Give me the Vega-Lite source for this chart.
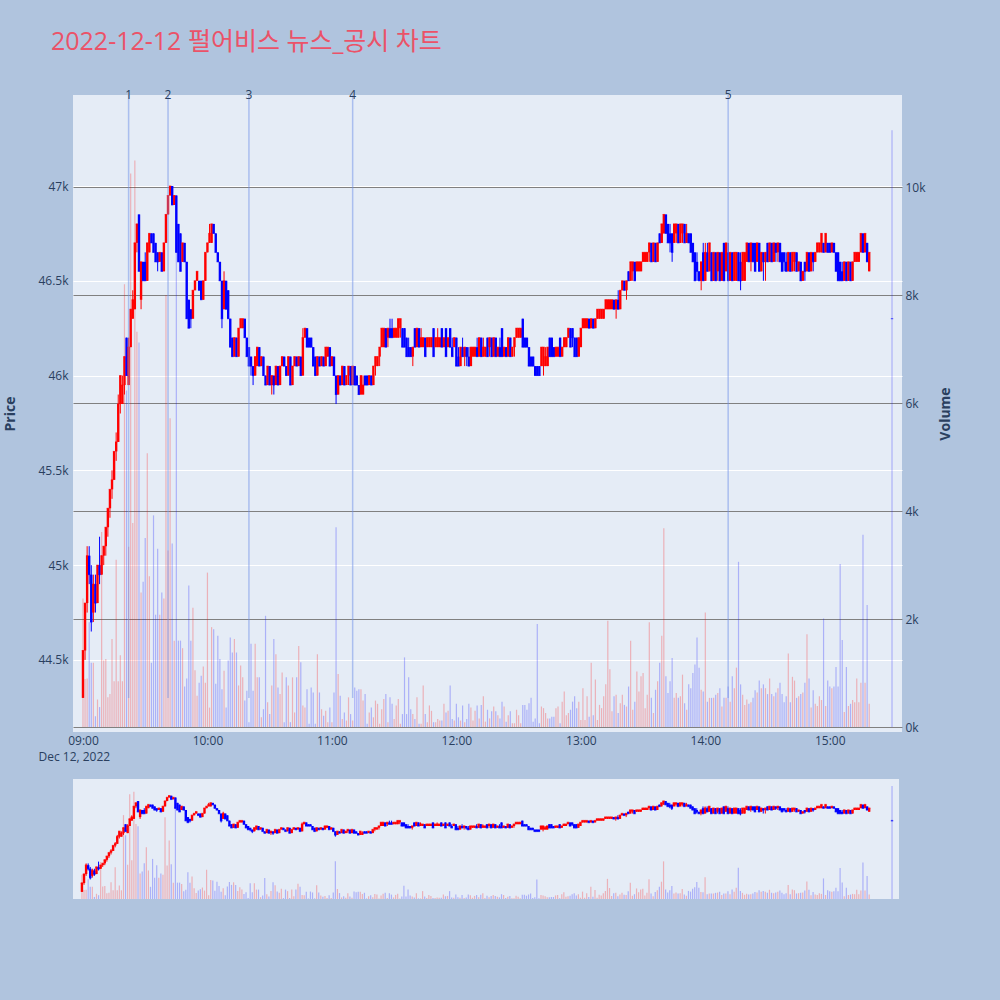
{
  "$schema": "https://vega.github.io/schema/vega-lite/v6.json",
  "background": "#b0c4de",
  "padding": {"left": 3, "top": 30, "right": 47, "bottom": 102},
  "title": {
    "text": "2022-12-12 펄어비스 뉴스_공시 차트",
    "anchor": "start",
    "font": "Open Sans, Noto Sans CJK KR",
    "fontSize": 25,
    "fontWeight": "normal",
    "color": "#eb5268",
    "dx": 47,
    "offset": 34
  },
  "config": {
    "font": "Open Sans",
    "view": {"fill": "#e5ecf6", "stroke": null},
    "axis": {
      "labelFont": "Open Sans",
      "labelFontSize": 12,
      "labelColor": "#2a3f5f",
      "titleFont": "Open Sans",
      "titleFontSize": 14,
      "titleColor": "#2a3f5f",
      "ticks": false,
      "domain": false
    }
  },
  "spacing": 17,
  "datasets": {
    "ev": [
      {"t": "2022-12-12T09:22", "n": "1"},
      {"t": "2022-12-12T09:41", "n": "2"},
      {"t": "2022-12-12T10:20", "n": "3"},
      {"t": "2022-12-12T11:10", "n": "4"},
      {"t": "2022-12-12T14:11", "n": "5"}
    ],
    "k": [
      {"t":"2022-12-12T09:00","o":44300,"h":44550,"l":44300,"c":44550,"v":2380},
      {"t":"2022-12-12T09:01","o":44550,"h":44800,"l":44500,"c":44800,"v":890},
      {"t":"2022-12-12T09:02","o":44800,"h":45100,"l":44750,"c":45050,"v":900},
      {"t":"2022-12-12T09:03","o":45050,"h":45100,"l":44900,"c":44950,"v":1940},
      {"t":"2022-12-12T09:04","o":44950,"h":45000,"l":44650,"c":44700,"v":1190},
      {"t":"2022-12-12T09:05","o":44750,"h":44950,"l":44700,"c":44900,"v":1190},
      {"t":"2022-12-12T09:06","o":44900,"h":44950,"l":44750,"c":44800,"v":200},
      {"t":"2022-12-12T09:07","o":44800,"h":45000,"l":44800,"c":45000,"v":510},
      {"t":"2022-12-12T09:08","o":45000,"h":45150,"l":44900,"c":44950,"v":370},
      {"t":"2022-12-12T09:09","o":44950,"h":45050,"l":44950,"c":45050,"v":3610},
      {"t":"2022-12-12T09:10","o":45050,"h":45100,"l":45000,"c":45100,"v":1230},
      {"t":"2022-12-12T09:11","o":45100,"h":45200,"l":45050,"c":45200,"v":1260},
      {"t":"2022-12-12T09:12","o":45200,"h":45300,"l":45150,"c":45300,"v":550},
      {"t":"2022-12-12T09:13","o":45300,"h":45400,"l":45250,"c":45400,"v":610},
      {"t":"2022-12-12T09:14","o":45400,"h":45500,"l":45350,"c":45450,"v":1630},
      {"t":"2022-12-12T09:15","o":45450,"h":45600,"l":45450,"c":45600,"v":850},
      {"t":"2022-12-12T09:16","o":45600,"h":45700,"l":45550,"c":45650,"v":3100},
      {"t":"2022-12-12T09:17","o":45650,"h":45900,"l":45650,"c":45850,"v":850},
      {"t":"2022-12-12T09:18","o":45850,"h":46000,"l":45800,"c":46000,"v":1330},
      {"t":"2022-12-12T09:19","o":45850,"h":46000,"l":45850,"c":45950,"v":850},
      {"t":"2022-12-12T09:20","o":45950,"h":46100,"l":45900,"c":46100,"v":8200},
      {"t":"2022-12-12T09:21","o":46200,"h":46200,"l":46000,"c":46000,"v":6230},
      {"t":"2022-12-12T09:22","o":45950,"h":46200,"l":45950,"c":46150,"v":3340},
      {"t":"2022-12-12T09:23","o":46150,"h":46350,"l":46150,"c":46350,"v":10250},
      {"t":"2022-12-12T09:24","o":46300,"h":46450,"l":46300,"c":46400,"v":3780},
      {"t":"2022-12-12T09:25","o":46350,"h":46700,"l":46350,"c":46700,"v":10490},
      {"t":"2022-12-12T09:26","o":46700,"h":46800,"l":46650,"c":46800,"v":7320},
      {"t":"2022-12-12T09:27","o":46850,"h":46850,"l":46550,"c":46550,"v":7120},
      {"t":"2022-12-12T09:28","o":46400,"h":46600,"l":46350,"c":46600,"v":2490},
      {"t":"2022-12-12T09:29","o":46600,"h":46600,"l":46500,"c":46500,"v":2690},
      {"t":"2022-12-12T09:30","o":46600,"h":46650,"l":46500,"c":46500,"v":3500},
      {"t":"2022-12-12T09:31","o":46500,"h":46700,"l":46500,"c":46700,"v":5070},
      {"t":"2022-12-12T09:32","o":46650,"h":46750,"l":46650,"c":46750,"v":2790},
      {"t":"2022-12-12T09:33","o":46750,"h":46750,"l":46700,"c":46700,"v":1190},
      {"t":"2022-12-12T09:34","o":46750,"h":46750,"l":46650,"c":46650,"v":3920},
      {"t":"2022-12-12T09:35","o":46700,"h":46700,"l":46600,"c":46600,"v":2080},
      {"t":"2022-12-12T09:36","o":46650,"h":46650,"l":46550,"c":46600,"v":3300},
      {"t":"2022-12-12T09:37","o":46600,"h":46650,"l":46600,"c":46650,"v":2080},
      {"t":"2022-12-12T09:38","o":46650,"h":46650,"l":46550,"c":46550,"v":2490},
      {"t":"2022-12-12T09:39","o":46550,"h":46700,"l":46550,"c":46700,"v":2380},
      {"t":"2022-12-12T09:40","o":46700,"h":46850,"l":46700,"c":46850,"v":8000},
      {"t":"2022-12-12T09:41","o":46850,"h":46950,"l":46850,"c":46950,"v":3270},
      {"t":"2022-12-12T09:42","o":46950,"h":47000,"l":46950,"c":47000,"v":5720},
      {"t":"2022-12-12T09:43","o":47000,"h":47000,"l":46900,"c":46900,"v":3400},
      {"t":"2022-12-12T09:44","o":46900,"h":46950,"l":46900,"c":46950,"v":1600},
      {"t":"2022-12-12T09:45","o":46950,"h":46950,"l":46650,"c":46650,"v":9700},
      {"t":"2022-12-12T09:46","o":46800,"h":46800,"l":46600,"c":46600,"v":1600},
      {"t":"2022-12-12T09:47","o":46750,"h":46750,"l":46550,"c":46550,"v":1600},
      {"t":"2022-12-12T09:48","o":46600,"h":46700,"l":46600,"c":46700,"v":1460},
      {"t":"2022-12-12T09:49","o":46700,"h":46700,"l":46600,"c":46600,"v":750},
      {"t":"2022-12-12T09:50","o":46600,"h":46600,"l":46300,"c":46300,"v":900},
      {"t":"2022-12-12T09:51","o":46400,"h":46400,"l":46250,"c":46250,"v":2620},
      {"t":"2022-12-12T09:52","o":46350,"h":46350,"l":46250,"c":46300,"v":1600},
      {"t":"2022-12-12T09:53","o":46300,"h":46450,"l":46300,"c":46450,"v":2210},
      {"t":"2022-12-12T09:54","o":46450,"h":46500,"l":46450,"c":46500,"v":1050},
      {"t":"2022-12-12T09:55","o":46500,"h":46550,"l":46500,"c":46550,"v":580},
      {"t":"2022-12-12T09:56","o":46500,"h":46500,"l":46450,"c":46450,"v":820},
      {"t":"2022-12-12T09:57","o":46500,"h":46500,"l":46400,"c":46400,"v":950},
      {"t":"2022-12-12T09:58","o":46400,"h":46500,"l":46400,"c":46500,"v":1120},
      {"t":"2022-12-12T09:59","o":46500,"h":46650,"l":46500,"c":46650,"v":820},
      {"t":"2022-12-12T10:00","o":46650,"h":46700,"l":46650,"c":46700,"v":2860},
      {"t":"2022-12-12T10:01","o":46700,"h":46800,"l":46700,"c":46750,"v":360},
      {"t":"2022-12-12T10:02","o":46700,"h":46800,"l":46700,"c":46800,"v":1850},
      {"t":"2022-12-12T10:03","o":46800,"h":46800,"l":46750,"c":46750,"v":1810},
      {"t":"2022-12-12T10:04","o":46750,"h":46750,"l":46650,"c":46650,"v":800},
      {"t":"2022-12-12T10:05","o":46650,"h":46650,"l":46600,"c":46600,"v":1690},
      {"t":"2022-12-12T10:06","o":46600,"h":46600,"l":46500,"c":46500,"v":1260},
      {"t":"2022-12-12T10:07","o":46500,"h":46500,"l":46250,"c":46300,"v":700},
      {"t":"2022-12-12T10:08","o":46350,"h":46550,"l":46350,"c":46500,"v":1040},
      {"t":"2022-12-12T10:09","o":46500,"h":46500,"l":46350,"c":46350,"v":360},
      {"t":"2022-12-12T10:10","o":46450,"h":46450,"l":46300,"c":46300,"v":1230},
      {"t":"2022-12-12T10:11","o":46300,"h":46300,"l":46150,"c":46150,"v":1660},
      {"t":"2022-12-12T10:12","o":46200,"h":46200,"l":46100,"c":46100,"v":1380},
      {"t":"2022-12-12T10:13","o":46100,"h":46200,"l":46100,"c":46200,"v":1630},
      {"t":"2022-12-12T10:14","o":46200,"h":46200,"l":46100,"c":46100,"v":1380},
      {"t":"2022-12-12T10:15","o":46100,"h":46250,"l":46100,"c":46250,"v":770},
      {"t":"2022-12-12T10:16","o":46250,"h":46300,"l":46250,"c":46300,"v":1140},
      {"t":"2022-12-12T10:17","o":46250,"h":46300,"l":46250,"c":46300,"v":920},
      {"t":"2022-12-12T10:18","o":46300,"h":46300,"l":46200,"c":46200,"v":490},
      {"t":"2022-12-12T10:19","o":46200,"h":46200,"l":46100,"c":46100,"v":670},
      {"t":"2022-12-12T10:20","o":46150,"h":46150,"l":46050,"c":46050,"v":90},
      {"t":"2022-12-12T10:21","o":46100,"h":46100,"l":46000,"c":46050,"v":1540},
      {"t":"2022-12-12T10:22","o":46050,"h":46050,"l":45950,"c":46000,"v":670},
      {"t":"2022-12-12T10:23","o":46000,"h":46100,"l":46000,"c":46100,"v":1540},
      {"t":"2022-12-12T10:24","o":46050,"h":46150,"l":46050,"c":46150,"v":920},
      {"t":"2022-12-12T10:25","o":46150,"h":46150,"l":46050,"c":46050,"v":920},
      {"t":"2022-12-12T10:26","o":46050,"h":46100,"l":46050,"c":46100,"v":180},
      {"t":"2022-12-12T10:27","o":46100,"h":46100,"l":46000,"c":46000,"v":330},
      {"t":"2022-12-12T10:28","o":46000,"h":46000,"l":45950,"c":45950,"v":2060},
      {"t":"2022-12-12T10:29","o":45950,"h":46050,"l":45950,"c":46050,"v":460},
      {"t":"2022-12-12T10:30","o":46050,"h":46050,"l":45950,"c":45950,"v":240},
      {"t":"2022-12-12T10:31","o":45950,"h":46000,"l":45900,"c":46000,"v":770},
      {"t":"2022-12-12T10:32","o":46000,"h":46000,"l":45900,"c":45950,"v":1630},
      {"t":"2022-12-12T10:33","o":45950,"h":46050,"l":45950,"c":46050,"v":1350},
      {"t":"2022-12-12T10:34","o":46050,"h":46050,"l":45950,"c":45950,"v":730},
      {"t":"2022-12-12T10:35","o":45950,"h":46050,"l":45950,"c":46050,"v":610},
      {"t":"2022-12-12T10:36","o":46050,"h":46100,"l":46050,"c":46100,"v":1010},
      {"t":"2022-12-12T10:37","o":46100,"h":46100,"l":46050,"c":46050,"v":90},
      {"t":"2022-12-12T10:38","o":46050,"h":46050,"l":46000,"c":46000,"v":920},
      {"t":"2022-12-12T10:39","o":46000,"h":46100,"l":46000,"c":46100,"v":770},
      {"t":"2022-12-12T10:40","o":46100,"h":46100,"l":45950,"c":45950,"v":90},
      {"t":"2022-12-12T10:41","o":45950,"h":46050,"l":45950,"c":46050,"v":920},
      {"t":"2022-12-12T10:42","o":46050,"h":46100,"l":46050,"c":46100,"v":270},
      {"t":"2022-12-12T10:43","o":46100,"h":46100,"l":46050,"c":46050,"v":920},
      {"t":"2022-12-12T10:44","o":46050,"h":46100,"l":46050,"c":46100,"v":1500},
      {"t":"2022-12-12T10:45","o":46100,"h":46100,"l":46000,"c":46000,"v":1200},
      {"t":"2022-12-12T10:46","o":46000,"h":46250,"l":46000,"c":46200,"v":400},
      {"t":"2022-12-12T10:47","o":46200,"h":46250,"l":46200,"c":46250,"v":360},
      {"t":"2022-12-12T10:48","o":46250,"h":46250,"l":46150,"c":46150,"v":700},
      {"t":"2022-12-12T10:49","o":46200,"h":46200,"l":46150,"c":46150,"v":60},
      {"t":"2022-12-12T10:50","o":46200,"h":46200,"l":46150,"c":46150,"v":730},
      {"t":"2022-12-12T10:51","o":46150,"h":46150,"l":46050,"c":46050,"v":640},
      {"t":"2022-12-12T10:52","o":46100,"h":46100,"l":46000,"c":46000,"v":60},
      {"t":"2022-12-12T10:53","o":46000,"h":46100,"l":46000,"c":46100,"v":1350},
      {"t":"2022-12-12T10:54","o":46100,"h":46100,"l":46050,"c":46050,"v":640},
      {"t":"2022-12-12T10:55","o":46050,"h":46100,"l":46050,"c":46100,"v":330},
      {"t":"2022-12-12T10:56","o":46100,"h":46100,"l":46050,"c":46050,"v":210},
      {"t":"2022-12-12T10:57","o":46050,"h":46150,"l":46050,"c":46150,"v":300},
      {"t":"2022-12-12T10:58","o":46100,"h":46150,"l":46100,"c":46150,"v":90},
      {"t":"2022-12-12T10:59","o":46150,"h":46150,"l":46050,"c":46050,"v":360},
      {"t":"2022-12-12T11:00","o":46050,"h":46100,"l":46050,"c":46100,"v":90},
      {"t":"2022-12-12T11:01","o":46100,"h":46100,"l":46000,"c":46000,"v":640},
      {"t":"2022-12-12T11:02","o":46000,"h":46000,"l":45850,"c":45900,"v":3700},
      {"t":"2022-12-12T11:03","o":45900,"h":46000,"l":45900,"c":46000,"v":980},
      {"t":"2022-12-12T11:04","o":46000,"h":46000,"l":45950,"c":45950,"v":580},
      {"t":"2022-12-12T11:05","o":45950,"h":46050,"l":45950,"c":46050,"v":150},
      {"t":"2022-12-12T11:06","o":46050,"h":46050,"l":45950,"c":45950,"v":270},
      {"t":"2022-12-12T11:07","o":45950,"h":46000,"l":45950,"c":46000,"v":120},
      {"t":"2022-12-12T11:08","o":46000,"h":46050,"l":45950,"c":46050,"v":550},
      {"t":"2022-12-12T11:09","o":46050,"h":46050,"l":45950,"c":45950,"v":240},
      {"t":"2022-12-12T11:10","o":45950,"h":46050,"l":45950,"c":46050,"v":120},
      {"t":"2022-12-12T11:11","o":46050,"h":46050,"l":45950,"c":45950,"v":730},
      {"t":"2022-12-12T11:12","o":46000,"h":46000,"l":45950,"c":45950,"v":670},
      {"t":"2022-12-12T11:13","o":45950,"h":45950,"l":45900,"c":45900,"v":700},
      {"t":"2022-12-12T11:14","o":45900,"h":46000,"l":45900,"c":46000,"v":700},
      {"t":"2022-12-12T11:15","o":45900,"h":46000,"l":45900,"c":45950,"v":490},
      {"t":"2022-12-12T11:16","o":46000,"h":46000,"l":45950,"c":45950,"v":610},
      {"t":"2022-12-12T11:17","o":46000,"h":46000,"l":45950,"c":45950,"v":60},
      {"t":"2022-12-12T11:18","o":45950,"h":46000,"l":45950,"c":46000,"v":270},
      {"t":"2022-12-12T11:19","o":46000,"h":46000,"l":45950,"c":45950,"v":360},
      {"t":"2022-12-12T11:20","o":45950,"h":46050,"l":45950,"c":46050,"v":180},
      {"t":"2022-12-12T11:21","o":46050,"h":46100,"l":46000,"c":46100,"v":490},
      {"t":"2022-12-12T11:22","o":46050,"h":46100,"l":46050,"c":46100,"v":430},
      {"t":"2022-12-12T11:23","o":46100,"h":46150,"l":46050,"c":46150,"v":60},
      {"t":"2022-12-12T11:24","o":46150,"h":46250,"l":46150,"c":46250,"v":330},
      {"t":"2022-12-12T11:25","o":46150,"h":46250,"l":46150,"c":46250,"v":520},
      {"t":"2022-12-12T11:26","o":46250,"h":46250,"l":46150,"c":46150,"v":610},
      {"t":"2022-12-12T11:27","o":46200,"h":46250,"l":46150,"c":46250,"v":90},
      {"t":"2022-12-12T11:28","o":46250,"h":46300,"l":46200,"c":46200,"v":550},
      {"t":"2022-12-12T11:29","o":46250,"h":46300,"l":46200,"c":46200,"v":430},
      {"t":"2022-12-12T11:30","o":46200,"h":46250,"l":46200,"c":46250,"v":150},
      {"t":"2022-12-12T11:31","o":46200,"h":46250,"l":46200,"c":46250,"v":400},
      {"t":"2022-12-12T11:32","o":46200,"h":46300,"l":46200,"c":46300,"v":520},
      {"t":"2022-12-12T11:33","o":46250,"h":46300,"l":46200,"c":46300,"v":60},
      {"t":"2022-12-12T11:34","o":46250,"h":46250,"l":46150,"c":46150,"v":240},
      {"t":"2022-12-12T11:35","o":46250,"h":46250,"l":46150,"c":46150,"v":1290},
      {"t":"2022-12-12T11:36","o":46200,"h":46200,"l":46100,"c":46100,"v":240},
      {"t":"2022-12-12T11:37","o":46150,"h":46200,"l":46100,"c":46100,"v":920},
      {"t":"2022-12-12T11:38","o":46150,"h":46150,"l":46100,"c":46100,"v":330},
      {"t":"2022-12-12T11:39","o":46100,"h":46150,"l":46050,"c":46150,"v":240},
      {"t":"2022-12-12T11:40","o":46250,"h":46250,"l":46150,"c":46150,"v":150},
      {"t":"2022-12-12T11:41","o":46150,"h":46250,"l":46150,"c":46250,"v":550},
      {"t":"2022-12-12T11:42","o":46250,"h":46250,"l":46150,"c":46150,"v":60},
      {"t":"2022-12-12T11:43","o":46150,"h":46250,"l":46150,"c":46200,"v":60},
      {"t":"2022-12-12T11:44","o":46150,"h":46200,"l":46150,"c":46200,"v":770},
      {"t":"2022-12-12T11:45","o":46200,"h":46200,"l":46100,"c":46100,"v":240},
      {"t":"2022-12-12T11:46","o":46150,"h":46200,"l":46150,"c":46200,"v":90},
      {"t":"2022-12-12T11:47","o":46150,"h":46200,"l":46150,"c":46200,"v":400},
      {"t":"2022-12-12T11:48","o":46150,"h":46200,"l":46150,"c":46200,"v":300},
      {"t":"2022-12-12T11:49","o":46250,"h":46250,"l":46100,"c":46100,"v":90},
      {"t":"2022-12-12T11:50","o":46150,"h":46200,"l":46150,"c":46200,"v":90},
      {"t":"2022-12-12T11:51","o":46150,"h":46250,"l":46150,"c":46200,"v":150},
      {"t":"2022-12-12T11:52","o":46150,"h":46200,"l":46150,"c":46200,"v":120},
      {"t":"2022-12-12T11:53","o":46250,"h":46250,"l":46150,"c":46150,"v":120},
      {"t":"2022-12-12T11:54","o":46150,"h":46200,"l":46150,"c":46200,"v":430},
      {"t":"2022-12-12T11:55","o":46250,"h":46250,"l":46100,"c":46100,"v":270},
      {"t":"2022-12-12T11:56","o":46150,"h":46200,"l":46150,"c":46200,"v":300},
      {"t":"2022-12-12T11:57","o":46250,"h":46250,"l":46150,"c":46150,"v":770},
      {"t":"2022-12-12T11:58","o":46150,"h":46200,"l":46100,"c":46100,"v":150},
      {"t":"2022-12-12T11:59","o":46150,"h":46200,"l":46150,"c":46200,"v":120},
      {"t":"2022-12-12T12:00","o":46200,"h":46200,"l":46050,"c":46050,"v":430},
      {"t":"2022-12-12T12:01","o":46100,"h":46150,"l":46050,"c":46050,"v":180},
      {"t":"2022-12-12T12:02","o":46050,"h":46150,"l":46050,"c":46150,"v":120},
      {"t":"2022-12-12T12:03","o":46150,"h":46200,"l":46100,"c":46100,"v":400},
      {"t":"2022-12-12T12:04","o":46100,"h":46150,"l":46050,"c":46150,"v":90},
      {"t":"2022-12-12T12:05","o":46150,"h":46150,"l":46050,"c":46100,"v":150},
      {"t":"2022-12-12T12:06","o":46100,"h":46150,"l":46050,"c":46050,"v":430},
      {"t":"2022-12-12T12:07","o":46050,"h":46150,"l":46050,"c":46150,"v":360},
      {"t":"2022-12-12T12:08","o":46100,"h":46150,"l":46100,"c":46150,"v":120},
      {"t":"2022-12-12T12:09","o":46100,"h":46150,"l":46100,"c":46150,"v":300},
      {"t":"2022-12-12T12:10","o":46150,"h":46200,"l":46100,"c":46100,"v":400},
      {"t":"2022-12-12T12:11","o":46100,"h":46200,"l":46100,"c":46200,"v":160},
      {"t":"2022-12-12T12:12","o":46200,"h":46200,"l":46100,"c":46100,"v":410},
      {"t":"2022-12-12T12:13","o":46100,"h":46200,"l":46100,"c":46150,"v":570},
      {"t":"2022-12-12T12:14","o":46100,"h":46150,"l":46100,"c":46150,"v":100},
      {"t":"2022-12-12T12:15","o":46200,"h":46200,"l":46100,"c":46100,"v":320},
      {"t":"2022-12-12T12:16","o":46150,"h":46200,"l":46100,"c":46200,"v":160},
      {"t":"2022-12-12T12:17","o":46200,"h":46200,"l":46100,"c":46100,"v":290},
      {"t":"2022-12-12T12:18","o":46100,"h":46200,"l":46100,"c":46200,"v":380},
      {"t":"2022-12-12T12:19","o":46200,"h":46200,"l":46100,"c":46100,"v":290},
      {"t":"2022-12-12T12:20","o":46100,"h":46150,"l":46100,"c":46150,"v":220},
      {"t":"2022-12-12T12:21","o":46150,"h":46200,"l":46100,"c":46100,"v":160},
      {"t":"2022-12-12T12:22","o":46250,"h":46250,"l":46100,"c":46100,"v":470},
      {"t":"2022-12-12T12:23","o":46100,"h":46150,"l":46100,"c":46150,"v":380},
      {"t":"2022-12-12T12:24","o":46150,"h":46150,"l":46100,"c":46100,"v":100},
      {"t":"2022-12-12T12:25","o":46100,"h":46200,"l":46100,"c":46200,"v":220},
      {"t":"2022-12-12T12:26","o":46200,"h":46200,"l":46100,"c":46100,"v":290},
      {"t":"2022-12-12T12:27","o":46100,"h":46150,"l":46100,"c":46150,"v":70},
      {"t":"2022-12-12T12:28","o":46150,"h":46200,"l":46100,"c":46200,"v":70},
      {"t":"2022-12-12T12:29","o":46200,"h":46250,"l":46200,"c":46250,"v":320},
      {"t":"2022-12-12T12:30","o":46200,"h":46250,"l":46200,"c":46250,"v":220},
      {"t":"2022-12-12T12:31","o":46200,"h":46250,"l":46200,"c":46250,"v":70},
      {"t":"2022-12-12T12:32","o":46300,"h":46300,"l":46150,"c":46150,"v":410},
      {"t":"2022-12-12T12:33","o":46200,"h":46200,"l":46150,"c":46150,"v":410},
      {"t":"2022-12-12T12:34","o":46200,"h":46200,"l":46150,"c":46150,"v":320},
      {"t":"2022-12-12T12:35","o":46150,"h":46150,"l":46050,"c":46050,"v":440},
      {"t":"2022-12-12T12:36","o":46100,"h":46100,"l":46050,"c":46050,"v":540},
      {"t":"2022-12-12T12:37","o":46100,"h":46100,"l":46050,"c":46050,"v":100},
      {"t":"2022-12-12T12:38","o":46050,"h":46050,"l":46000,"c":46000,"v":160},
      {"t":"2022-12-12T12:39","o":46050,"h":46050,"l":46000,"c":46000,"v":1910},
      {"t":"2022-12-12T12:40","o":46050,"h":46050,"l":46000,"c":46000,"v":70},
      {"t":"2022-12-12T12:41","o":46050,"h":46150,"l":46050,"c":46150,"v":380},
      {"t":"2022-12-12T12:42","o":46050,"h":46150,"l":46000,"c":46150,"v":350},
      {"t":"2022-12-12T12:43","o":46050,"h":46150,"l":46050,"c":46100,"v":260},
      {"t":"2022-12-12T12:44","o":46050,"h":46150,"l":46050,"c":46150,"v":160},
      {"t":"2022-12-12T12:45","o":46200,"h":46200,"l":46100,"c":46100,"v":160},
      {"t":"2022-12-12T12:46","o":46200,"h":46200,"l":46100,"c":46100,"v":190},
      {"t":"2022-12-12T12:47","o":46150,"h":46150,"l":46100,"c":46100,"v":190},
      {"t":"2022-12-12T12:48","o":46100,"h":46150,"l":46100,"c":46150,"v":350},
      {"t":"2022-12-12T12:49","o":46100,"h":46150,"l":46100,"c":46150,"v":380},
      {"t":"2022-12-12T12:50","o":46200,"h":46200,"l":46100,"c":46100,"v":70},
      {"t":"2022-12-12T12:51","o":46100,"h":46150,"l":46100,"c":46150,"v":470},
      {"t":"2022-12-12T12:52","o":46150,"h":46200,"l":46150,"c":46200,"v":660},
      {"t":"2022-12-12T12:53","o":46150,"h":46200,"l":46150,"c":46200,"v":220},
      {"t":"2022-12-12T12:54","o":46200,"h":46250,"l":46200,"c":46250,"v":260},
      {"t":"2022-12-12T12:55","o":46250,"h":46250,"l":46150,"c":46150,"v":320},
      {"t":"2022-12-12T12:56","o":46250,"h":46250,"l":46150,"c":46200,"v":470},
      {"t":"2022-12-12T12:57","o":46200,"h":46200,"l":46100,"c":46100,"v":570},
      {"t":"2022-12-12T12:58","o":46200,"h":46200,"l":46100,"c":46100,"v":350},
      {"t":"2022-12-12T12:59","o":46100,"h":46200,"l":46100,"c":46200,"v":470},
      {"t":"2022-12-12T13:00","o":46150,"h":46250,"l":46150,"c":46250,"v":130},
      {"t":"2022-12-12T13:01","o":46250,"h":46300,"l":46250,"c":46300,"v":720},
      {"t":"2022-12-12T13:02","o":46250,"h":46300,"l":46250,"c":46300,"v":130},
      {"t":"2022-12-12T13:03","o":46250,"h":46300,"l":46250,"c":46300,"v":570},
      {"t":"2022-12-12T13:04","o":46300,"h":46300,"l":46250,"c":46250,"v":190},
      {"t":"2022-12-12T13:05","o":46250,"h":46300,"l":46250,"c":46300,"v":1190},
      {"t":"2022-12-12T13:06","o":46300,"h":46300,"l":46250,"c":46250,"v":220},
      {"t":"2022-12-12T13:07","o":46250,"h":46300,"l":46250,"c":46300,"v":880},
      {"t":"2022-12-12T13:08","o":46300,"h":46350,"l":46300,"c":46350,"v":130},
      {"t":"2022-12-12T13:09","o":46300,"h":46350,"l":46300,"c":46350,"v":410},
      {"t":"2022-12-12T13:10","o":46300,"h":46350,"l":46300,"c":46350,"v":350},
      {"t":"2022-12-12T13:11","o":46300,"h":46350,"l":46300,"c":46350,"v":570},
      {"t":"2022-12-12T13:12","o":46350,"h":46400,"l":46350,"c":46400,"v":790},
      {"t":"2022-12-12T13:13","o":46350,"h":46400,"l":46350,"c":46400,"v":1970},
      {"t":"2022-12-12T13:14","o":46350,"h":46400,"l":46350,"c":46400,"v":1070},
      {"t":"2022-12-12T13:15","o":46350,"h":46400,"l":46350,"c":46400,"v":290},
      {"t":"2022-12-12T13:16","o":46400,"h":46400,"l":46350,"c":46350,"v":570},
      {"t":"2022-12-12T13:17","o":46350,"h":46400,"l":46300,"c":46400,"v":600},
      {"t":"2022-12-12T13:18","o":46400,"h":46450,"l":46350,"c":46350,"v":260},
      {"t":"2022-12-12T13:19","o":46350,"h":46450,"l":46350,"c":46450,"v":440},
      {"t":"2022-12-12T13:20","o":46450,"h":46500,"l":46450,"c":46500,"v":600},
      {"t":"2022-12-12T13:21","o":46500,"h":46500,"l":46450,"c":46450,"v":410},
      {"t":"2022-12-12T13:22","o":46450,"h":46500,"l":46400,"c":46500,"v":380},
      {"t":"2022-12-12T13:23","o":46550,"h":46550,"l":46500,"c":46500,"v":750},
      {"t":"2022-12-12T13:24","o":46500,"h":46600,"l":46500,"c":46600,"v":1600},
      {"t":"2022-12-12T13:25","o":46550,"h":46600,"l":46500,"c":46600,"v":320},
      {"t":"2022-12-12T13:26","o":46600,"h":46600,"l":46500,"c":46500,"v":470},
      {"t":"2022-12-12T13:27","o":46550,"h":46600,"l":46550,"c":46600,"v":1030},
      {"t":"2022-12-12T13:28","o":46550,"h":46600,"l":46550,"c":46600,"v":660},
      {"t":"2022-12-12T13:29","o":46550,"h":46600,"l":46550,"c":46600,"v":940},
      {"t":"2022-12-12T13:30","o":46600,"h":46650,"l":46600,"c":46650,"v":1000},
      {"t":"2022-12-12T13:31","o":46600,"h":46650,"l":46600,"c":46650,"v":350},
      {"t":"2022-12-12T13:32","o":46600,"h":46650,"l":46600,"c":46650,"v":600},
      {"t":"2022-12-12T13:33","o":46650,"h":46700,"l":46600,"c":46700,"v":1940},
      {"t":"2022-12-12T13:34","o":46700,"h":46700,"l":46600,"c":46600,"v":540},
      {"t":"2022-12-12T13:35","o":46600,"h":46700,"l":46600,"c":46700,"v":260},
      {"t":"2022-12-12T13:36","o":46700,"h":46700,"l":46600,"c":46600,"v":690},
      {"t":"2022-12-12T13:37","o":46600,"h":46700,"l":46600,"c":46700,"v":850},
      {"t":"2022-12-12T13:38","o":46750,"h":46750,"l":46700,"c":46700,"v":1190},
      {"t":"2022-12-12T13:39","o":46700,"h":46800,"l":46700,"c":46800,"v":1690},
      {"t":"2022-12-12T13:40","o":46750,"h":46850,"l":46750,"c":46850,"v":3680},
      {"t":"2022-12-12T13:41","o":46850,"h":46850,"l":46750,"c":46750,"v":940},
      {"t":"2022-12-12T13:42","o":46800,"h":46800,"l":46700,"c":46700,"v":630},
      {"t":"2022-12-12T13:43","o":46750,"h":46800,"l":46650,"c":46700,"v":850},
      {"t":"2022-12-12T13:44","o":46750,"h":46750,"l":46600,"c":46650,"v":1280},
      {"t":"2022-12-12T13:45","o":46700,"h":46800,"l":46700,"c":46800,"v":540},
      {"t":"2022-12-12T13:46","o":46750,"h":46800,"l":46700,"c":46800,"v":630},
      {"t":"2022-12-12T13:47","o":46800,"h":46800,"l":46700,"c":46700,"v":540},
      {"t":"2022-12-12T13:48","o":46700,"h":46800,"l":46700,"c":46800,"v":570},
      {"t":"2022-12-12T13:49","o":46750,"h":46800,"l":46700,"c":46800,"v":970},
      {"t":"2022-12-12T13:50","o":46800,"h":46800,"l":46700,"c":46700,"v":440},
      {"t":"2022-12-12T13:51","o":46700,"h":46800,"l":46700,"c":46750,"v":320},
      {"t":"2022-12-12T13:52","o":46750,"h":46750,"l":46700,"c":46700,"v":790},
      {"t":"2022-12-12T13:53","o":46750,"h":46750,"l":46650,"c":46650,"v":720},
      {"t":"2022-12-12T13:54","o":46700,"h":46700,"l":46600,"c":46600,"v":1000},
      {"t":"2022-12-12T13:55","o":46650,"h":46650,"l":46500,"c":46500,"v":1160},
      {"t":"2022-12-12T13:56","o":46600,"h":46650,"l":46500,"c":46550,"v":1660},
      {"t":"2022-12-12T13:57","o":46550,"h":46550,"l":46500,"c":46500,"v":1100},
      {"t":"2022-12-12T13:58","o":46500,"h":46600,"l":46450,"c":46600,"v":690},
      {"t":"2022-12-12T13:59","o":46650,"h":46700,"l":46500,"c":46500,"v":660},
      {"t":"2022-12-12T14:00","o":46500,"h":46700,"l":46500,"c":46650,"v":2120},
      {"t":"2022-12-12T14:01","o":46650,"h":46700,"l":46550,"c":46550,"v":470},
      {"t":"2022-12-12T14:02","o":46550,"h":46700,"l":46550,"c":46700,"v":540},
      {"t":"2022-12-12T14:03","o":46650,"h":46650,"l":46500,"c":46500,"v":540},
      {"t":"2022-12-12T14:04","o":46500,"h":46650,"l":46500,"c":46650,"v":540},
      {"t":"2022-12-12T14:05","o":46650,"h":46650,"l":46500,"c":46500,"v":600},
      {"t":"2022-12-12T14:06","o":46550,"h":46650,"l":46500,"c":46650,"v":630},
      {"t":"2022-12-12T14:07","o":46650,"h":46650,"l":46500,"c":46500,"v":720},
      {"t":"2022-12-12T14:08","o":46500,"h":46650,"l":46500,"c":46650,"v":380},
      {"t":"2022-12-12T14:09","o":46700,"h":46700,"l":46500,"c":46500,"v":540},
      {"t":"2022-12-12T14:10","o":46550,"h":46700,"l":46550,"c":46700,"v":540},
      {"t":"2022-12-12T14:11","o":46650,"h":46700,"l":46500,"c":46500,"v":750},
      {"t":"2022-12-12T14:12","o":46500,"h":46650,"l":46500,"c":46650,"v":470},
      {"t":"2022-12-12T14:13","o":46650,"h":46650,"l":46500,"c":46500,"v":940},
      {"t":"2022-12-12T14:14","o":46500,"h":46650,"l":46500,"c":46650,"v":720},
      {"t":"2022-12-12T14:15","o":46500,"h":46650,"l":46500,"c":46650,"v":1100},
      {"t":"2022-12-12T14:16","o":46650,"h":46650,"l":46500,"c":46500,"v":3060},
      {"t":"2022-12-12T14:17","o":46600,"h":46650,"l":46450,"c":46500,"v":790},
      {"t":"2022-12-12T14:18","o":46500,"h":46650,"l":46500,"c":46650,"v":600},
      {"t":"2022-12-12T14:19","o":46500,"h":46650,"l":46500,"c":46650,"v":410},
      {"t":"2022-12-12T14:20","o":46600,"h":46700,"l":46600,"c":46700,"v":510},
      {"t":"2022-12-12T14:21","o":46700,"h":46700,"l":46600,"c":46600,"v":430},
      {"t":"2022-12-12T14:22","o":46600,"h":46700,"l":46550,"c":46700,"v":460},
      {"t":"2022-12-12T14:23","o":46700,"h":46700,"l":46600,"c":46600,"v":540},
      {"t":"2022-12-12T14:24","o":46700,"h":46700,"l":46550,"c":46550,"v":680},
      {"t":"2022-12-12T14:25","o":46600,"h":46700,"l":46600,"c":46700,"v":640},
      {"t":"2022-12-12T14:26","o":46700,"h":46700,"l":46550,"c":46550,"v":860},
      {"t":"2022-12-12T14:27","o":46550,"h":46650,"l":46550,"c":46650,"v":720},
      {"t":"2022-12-12T14:28","o":46650,"h":46650,"l":46500,"c":46600,"v":790},
      {"t":"2022-12-12T14:29","o":46600,"h":46650,"l":46500,"c":46650,"v":720},
      {"t":"2022-12-12T14:30","o":46700,"h":46700,"l":46600,"c":46600,"v":610},
      {"t":"2022-12-12T14:31","o":46600,"h":46700,"l":46600,"c":46700,"v":900},
      {"t":"2022-12-12T14:32","o":46700,"h":46700,"l":46600,"c":46600,"v":610},
      {"t":"2022-12-12T14:33","o":46600,"h":46700,"l":46600,"c":46700,"v":570},
      {"t":"2022-12-12T14:34","o":46700,"h":46700,"l":46600,"c":46650,"v":640},
      {"t":"2022-12-12T14:35","o":46650,"h":46700,"l":46600,"c":46700,"v":720},
      {"t":"2022-12-12T14:36","o":46700,"h":46700,"l":46600,"c":46600,"v":820},
      {"t":"2022-12-12T14:37","o":46650,"h":46650,"l":46550,"c":46550,"v":610},
      {"t":"2022-12-12T14:38","o":46650,"h":46650,"l":46550,"c":46600,"v":460},
      {"t":"2022-12-12T14:39","o":46600,"h":46650,"l":46550,"c":46550,"v":570},
      {"t":"2022-12-12T14:40","o":46550,"h":46650,"l":46550,"c":46650,"v":1360},
      {"t":"2022-12-12T14:41","o":46650,"h":46650,"l":46550,"c":46550,"v":460},
      {"t":"2022-12-12T14:42","o":46550,"h":46650,"l":46550,"c":46650,"v":930},
      {"t":"2022-12-12T14:43","o":46600,"h":46650,"l":46550,"c":46650,"v":860},
      {"t":"2022-12-12T14:44","o":46650,"h":46650,"l":46550,"c":46550,"v":540},
      {"t":"2022-12-12T14:45","o":46550,"h":46600,"l":46550,"c":46600,"v":570},
      {"t":"2022-12-12T14:46","o":46600,"h":46600,"l":46500,"c":46500,"v":610},
      {"t":"2022-12-12T14:47","o":46500,"h":46550,"l":46500,"c":46550,"v":640},
      {"t":"2022-12-12T14:48","o":46600,"h":46600,"l":46500,"c":46550,"v":820},
      {"t":"2022-12-12T14:49","o":46550,"h":46650,"l":46550,"c":46650,"v":1720},
      {"t":"2022-12-12T14:50","o":46650,"h":46650,"l":46550,"c":46550,"v":900},
      {"t":"2022-12-12T14:51","o":46550,"h":46650,"l":46550,"c":46650,"v":360},
      {"t":"2022-12-12T14:52","o":46650,"h":46650,"l":46550,"c":46600,"v":680},
      {"t":"2022-12-12T14:53","o":46600,"h":46650,"l":46600,"c":46650,"v":430},
      {"t":"2022-12-12T14:54","o":46650,"h":46700,"l":46650,"c":46700,"v":390},
      {"t":"2022-12-12T14:55","o":46650,"h":46700,"l":46650,"c":46700,"v":570},
      {"t":"2022-12-12T14:56","o":46650,"h":46750,"l":46650,"c":46750,"v":500},
      {"t":"2022-12-12T14:57","o":46700,"h":46700,"l":46650,"c":46650,"v":2010},
      {"t":"2022-12-12T14:58","o":46650,"h":46750,"l":46650,"c":46750,"v":390},
      {"t":"2022-12-12T14:59","o":46700,"h":46700,"l":46650,"c":46650,"v":860},
      {"t":"2022-12-12T15:00","o":46700,"h":46700,"l":46650,"c":46650,"v":750},
      {"t":"2022-12-12T15:01","o":46650,"h":46700,"l":46650,"c":46700,"v":720},
      {"t":"2022-12-12T15:02","o":46700,"h":46700,"l":46650,"c":46650,"v":750},
      {"t":"2022-12-12T15:03","o":46650,"h":46650,"l":46550,"c":46550,"v":1110},
      {"t":"2022-12-12T15:04","o":46650,"h":46650,"l":46500,"c":46500,"v":750},
      {"t":"2022-12-12T15:05","o":46600,"h":46600,"l":46500,"c":46500,"v":3020},
      {"t":"2022-12-12T15:06","o":46550,"h":46600,"l":46500,"c":46500,"v":1610},
      {"t":"2022-12-12T15:07","o":46500,"h":46600,"l":46500,"c":46600,"v":280},
      {"t":"2022-12-12T15:08","o":46600,"h":46600,"l":46500,"c":46500,"v":1110},
      {"t":"2022-12-12T15:09","o":46500,"h":46600,"l":46500,"c":46600,"v":390},
      {"t":"2022-12-12T15:10","o":46600,"h":46600,"l":46500,"c":46500,"v":430},
      {"t":"2022-12-12T15:11","o":46500,"h":46600,"l":46500,"c":46600,"v":500},
      {"t":"2022-12-12T15:12","o":46600,"h":46650,"l":46600,"c":46650,"v":460},
      {"t":"2022-12-12T15:13","o":46600,"h":46650,"l":46600,"c":46650,"v":900},
      {"t":"2022-12-12T15:14","o":46600,"h":46650,"l":46600,"c":46650,"v":460},
      {"t":"2022-12-12T15:15","o":46650,"h":46750,"l":46650,"c":46750,"v":820},
      {"t":"2022-12-12T15:16","o":46750,"h":46750,"l":46650,"c":46650,"v":3560},
      {"t":"2022-12-12T15:17","o":46650,"h":46750,"l":46650,"c":46750,"v":820},
      {"t":"2022-12-12T15:18","o":46700,"h":46700,"l":46600,"c":46600,"v":2260},
      {"t":"2022-12-12T15:19","o":46550,"h":46650,"l":46550,"c":46650,"v":430},
      {"t":"2022-12-12T15:30","o":46300,"h":46300,"l":46300,"c":46300,"v":11050}
    ]
  },
  "vconcat": [
    {
      "width": 829,
      "height": 637,
      "data": {"name": "k"},
      "encoding": {
        "x": {
          "field": "t",
          "type": "temporal",
          "scale": {"domain": [
            {"year": 2022, "month": 12, "date": 12, "hours": 8, "minutes": 57, "seconds": 36},
            {"year": 2022, "month": 12, "date": 12, "hours": 15, "minutes": 32, "seconds": 24}
          ]},
          "axis": {
            "title": "Dec 12, 2022",
            "titleFontSize": 12,
            "titleFontWeight": "normal",
            "titleAnchor": "start",
            "titleX": -35,
            "titlePadding": 5,
            "grid": false,
            "format": "%H:%M",
            "values": [
              {"year": 2022, "month": 12, "date": 12, "hours": 9},
              {"year": 2022, "month": 12, "date": 12, "hours": 10},
              {"year": 2022, "month": 12, "date": 12, "hours": 11},
              {"year": 2022, "month": 12, "date": 12, "hours": 12},
              {"year": 2022, "month": 12, "date": 12, "hours": 13},
              {"year": 2022, "month": 12, "date": 12, "hours": 14},
              {"year": 2022, "month": 12, "date": 12, "hours": 15}
            ],
            "labelPadding": 3,
            "labelFlush": false,
            "labelOverlap": false
          }
        }
      },
      "layer": [
        {
          "mark": {"type": "rule", "strokeWidth": 1},
          "encoding": {
            "y": {
              "field": "l",
              "type": "quantitative",
              "scale": {"domain": [44120, 47480]},
              "axis": {
                "orient": "left",
                "title": "Price",
                "values": [44500, 45000, 45500, 46000, 46500, 47000],
                "format": "~s",
                "grid": true,
                "gridColor": "#ffffff",
                "gridWidth": 1,
                "labelPadding": 5,
                "titlePadding": 20,
                "titleFontWeight": "bold"
              }
            },
            "y2": {"field": "h"},
            "color": {"condition": {"test": "datum.c > datum.o", "value": "#ff0000"}, "value": "#0000ff"}
          }
        },
        {
          "mark": {"type": "bar", "size": 2.4},
          "encoding": {
            "y": {"field": "o", "type": "quantitative", "scale": {"domain": [44120, 47480]}, "axis": null},
            "y2": {"field": "c"},
            "color": {"condition": {"test": "datum.c > datum.o", "value": "#ff0000"}, "value": "#0000ff"}
          }
        },
        {
          "mark": {"type": "tick", "orient": "horizontal", "thickness": 1, "size": 2.4},
          "encoding": {
            "y": {"field": "c", "type": "quantitative", "scale": {"domain": [44120, 47480]}, "axis": null},
            "color": {"condition": {"test": "datum.c > datum.o", "value": "#ff0000"}, "value": "#0000ff"}
          }
        },
        {
          "mark": {"type": "bar", "size": 1.2, "opacity": 0.25},
          "encoding": {
            "y": {
              "field": "v",
              "type": "quantitative",
              "scale": {"domain": [-92, 11704]},
              "axis": {
                "orient": "right",
                "title": "Volume",
                "values": [0, 2000, 4000, 6000, 8000, 10000],
                "format": "~s",
                "grid": true,
                "gridColor": "#808080",
                "gridWidth": 1,
                "labelPadding": 3,
                "titlePadding": 27,
                "titleAngle": 270,
                "titleFontWeight": "bold"
              }
            },
            "color": {"condition": {"test": "datum.c > datum.o", "value": "#ff0000"}, "value": "#0000ff"}
          }
        },
        {
          "data": {"name": "ev"},
          "mark": {"type": "rule", "color": "#6f8fe8", "opacity": 0.5, "strokeWidth": 1.5},
          "encoding": {
            "y": {"datum": 44300, "type": "quantitative", "scale": {"domain": [44120, 47480]}, "axis": null},
            "y2": {"datum": 47480}
          }
        },
        {
          "data": {"name": "ev"},
          "mark": {"type": "text", "baseline": "middle", "fontSize": 12, "font": "Open Sans", "color": "#2a3f5f"},
          "encoding": {
            "y": {"datum": 47480, "type": "quantitative", "scale": {"domain": [44120, 47480]}, "axis": null},
            "text": {"field": "n"}
          }
        }
      ],
      "resolve": {"scale": {"y": "independent"}}
    },
    {
      "width": 826,
      "height": 120,
      "data": {"name": "k"},
      "encoding": {
        "x": {
          "field": "t",
          "type": "temporal",
          "scale": {"domain": [
            {"year": 2022, "month": 12, "date": 12, "hours": 8, "minutes": 58, "seconds": 6},
            {"year": 2022, "month": 12, "date": 12, "hours": 15, "minutes": 30, "seconds": 57}
          ]},
          "axis": null
        }
      },
      "layer": [
        {
          "mark": {"type": "rule", "strokeWidth": 1},
          "encoding": {
            "y": {"field": "l", "type": "quantitative", "scale": {"domain": [44100, 47470]}, "axis": null},
            "y2": {"field": "h"},
            "color": {"condition": {"test": "datum.c > datum.o", "value": "#ff0000"}, "value": "#0000ff"}
          }
        },
        {
          "mark": {"type": "bar", "size": 2.4},
          "encoding": {
            "y": {"field": "o", "type": "quantitative", "scale": {"domain": [44100, 47470]}, "axis": null},
            "y2": {"field": "c"},
            "color": {"condition": {"test": "datum.c > datum.o", "value": "#ff0000"}, "value": "#0000ff"}
          }
        },
        {
          "mark": {"type": "tick", "orient": "horizontal", "thickness": 1.5, "size": 2.4},
          "encoding": {
            "y": {"field": "c", "type": "quantitative", "scale": {"domain": [44100, 47470]}, "axis": null},
            "color": {"condition": {"test": "datum.c > datum.o", "value": "#ff0000"}, "value": "#0000ff"}
          }
        },
        {
          "mark": {"type": "bar", "size": 1.2, "opacity": 0.25},
          "encoding": {
            "y": {"field": "v", "type": "quantitative", "scale": {"domain": [0, 11730]}, "axis": null},
            "color": {"condition": {"test": "datum.c > datum.o", "value": "#ff0000"}, "value": "#0000ff"}
          }
        }
      ],
      "resolve": {"scale": {"y": "independent"}}
    }
  ]
}
